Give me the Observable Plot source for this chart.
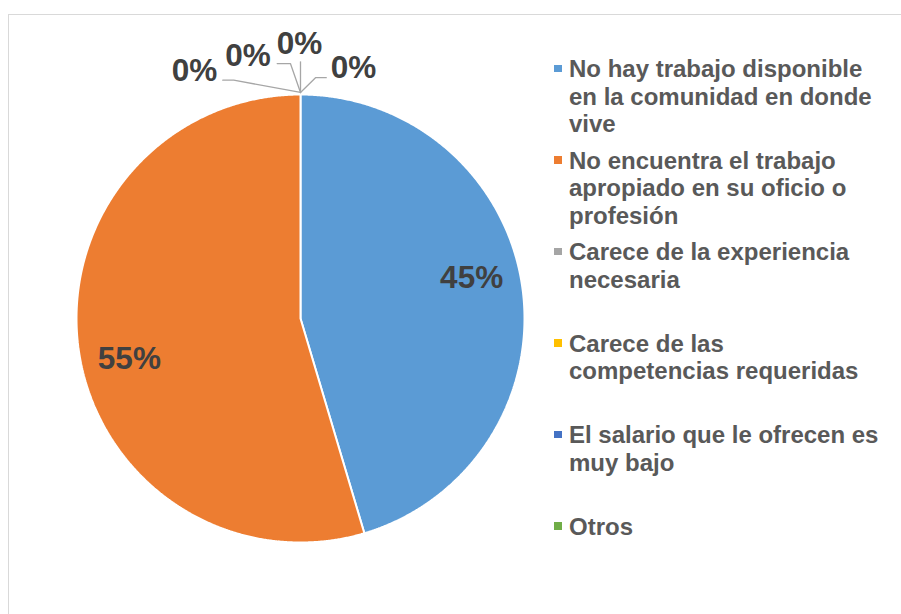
<!DOCTYPE html>
<html>
<head>
<meta charset="utf-8">
<script src="https://cdn.jsdelivr.net/npm/d3@7"></script>
<script src="https://cdn.jsdelivr.net/npm/@observablehq/plot@0.6"></script>
<style>
  html, body { margin: 0; padding: 0; background: #fff; overflow: hidden; }
  body { width: 901px; height: 614px; position: relative; font-family: Arial, "Liberation Sans", sans-serif; }
  #frame { position: absolute; left: 8px; top: 14px; width: 1000px; height: 700px; border: 1.5px solid #D9D9D9; box-sizing: border-box; }
  #chart { position: absolute; left: 0; top: 0; }
  #legend { position: absolute; left: 554px; top: 55.4px; width: 340px; }
  .item { position: relative; height: 91.5px; }
  .sw { position: absolute; left: 0; width: 7.5px; height: 7.5px; top: 9.6px; }
  .lab { position: absolute; left: 15px; top: 0; width: 325px; font-size: 24px; line-height: 27.5px; font-weight: bold; color: #595959; }
</style>
</head>
<body>
<div id="frame"></div>
<div id="chart"></div>
<div id="legend"></div>
<script>
// ---- data ----
const categories = [
  "No hay trabajo disponible en la comunidad en donde vive",
  "No encuentra el trabajo apropiado en su oficio o profesión",
  "Carece de la experiencia necesaria",
  "Carece de las competencias requeridas",
  "El salario que le ofrecen es muy bajo",
  "Otros"
];
const values = [45.4, 54.6, 0, 0, 0, 0];
const colors = ["#5B9BD5", "#ED7D31", "#A5A5A5", "#FFC000", "#4472C4", "#70AD47"];
const legendLines = [
  ["No hay trabajo disponible", "en la comunidad en donde", "vive"],
  ["No encuentra el trabajo", "apropiado en su oficio o", "profesión"],
  ["Carece de la experiencia", "necesaria"],
  ["Carece de las", "competencias requeridas"],
  ["El salario que le ofrecen es", "muy bajo"],
  ["Otros"]
];

// ---- layout for the zero-value labels (unit-radius coordinates) ----
const zeroLeaders = [
  { elbow: [-0.298, 1.064], end: [-0.347, 1.064], label: [-0.473, 1.105] },
  { elbow: [-0.045, 1.138], end: [-0.104, 1.138], label: [-0.234, 1.174] },
  { elbow: [0, 1.146],      end: [0, 1.146],      label: [-0.004, 1.224] },
  { elbow: [0.067, 1.075],  end: [0.115, 1.075],  label: [0.237, 1.1205] }
];

const rows = categories.map((c, i) => ({ cat: c, value: values[i] }));
const total = d3.sum(values);
const arcs = d3.pie().sort(null).value(d => d.value).startAngle(0).endAngle(2 * Math.PI)(rows);

// slice polygons
const slicePts = [];
arcs.forEach(a => {
  if (a.data.value <= 0) return;
  slicePts.push({ cat: a.data.cat, x: 0, y: 0 });
  const n = Math.max(2, Math.ceil((a.endAngle - a.startAngle) / 0.005));
  for (let k = 0; k <= n; k++) {
    const t = a.startAngle + (a.endAngle - a.startAngle) * k / n;
    slicePts.push({ cat: a.data.cat, x: Math.sin(t), y: Math.cos(t) });
  }
  slicePts.push({ cat: a.data.cat, x: 0, y: 0 });
});

// labels
const labels = [];
const leaderPts = [];
let zi = 0;
arcs.forEach(a => {
  const pct = Math.round(a.data.value / total * 100) + "%";
  if (a.data.value > 0) {
    const mid = (a.startAngle + a.endAngle) / 2 - 5 * Math.PI / 180;
    labels.push({ x: 0.785 * Math.sin(mid), y: 0.785 * Math.cos(mid), text: pct });
  } else {
    const L = zeroLeaders[zi % zeroLeaders.length];
    const startR = 1.009;
    leaderPts.push({ id: zi, x: startR * Math.sin(a.startAngle), y: startR * Math.cos(a.startAngle) });
    leaderPts.push({ id: zi, x: L.elbow[0], y: L.elbow[1] });
    leaderPts.push({ id: zi, x: L.end[0], y: L.end[1] });
    labels.push({ x: L.label[0], y: L.label[1], text: pct });
    zi++;
  }
});

const chart = Plot.plot({
  width: 901,
  height: 614,
  margin: 0,
  style: { fontFamily: "Arial, 'Liberation Sans', sans-serif", overflow: "visible", background: "transparent" },
  x: { domain: [-1, 1], range: [76, 524], axis: null },
  y: { domain: [-1, 1], range: [542, 94], axis: null },
  color: { domain: categories, range: colors },
  marks: [
    Plot.line(slicePts, { x: "x", y: "y", z: "cat", fill: "cat", stroke: "white", strokeWidth: 2, strokeLinejoin: "miter" }),
    Plot.line(leaderPts, { x: "x", y: "y", z: "id", stroke: "#A6A6A6", strokeWidth: 1.3 }),
    Plot.text(labels, { x: "x", y: "y", text: "text", fontSize: 31.5, fontWeight: "bold", fill: "#404040", lineAnchor: "middle", textAnchor: "middle" })
  ]
});
document.getElementById("chart").appendChild(chart);

// legend
const legend = d3.select("#legend");
categories.forEach((c, i) => {
  const it = legend.append("div").attr("class", "item");
  it.append("div").attr("class", "sw").style("background", colors[i]);
  const lab = it.append("div").attr("class", "lab");
  legendLines[i].forEach(line => lab.append("div").text(line));
});
</script>
</body>
</html>
